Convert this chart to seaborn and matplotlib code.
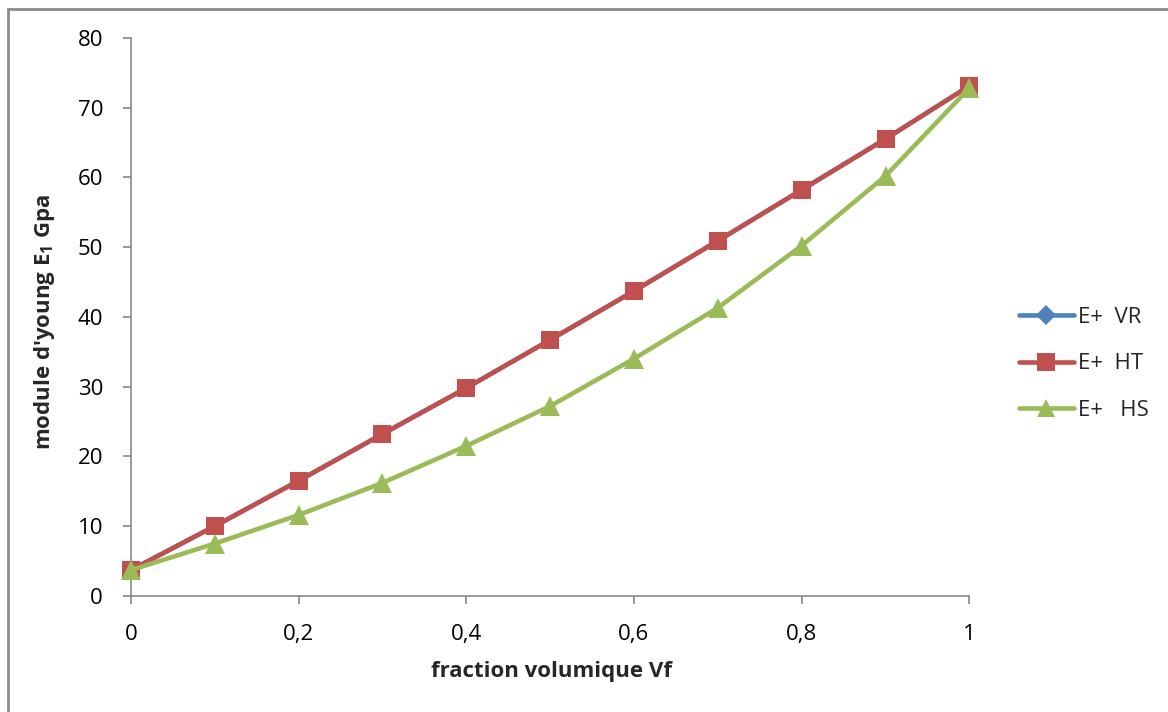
import matplotlib
matplotlib.use("Agg")
import matplotlib.pyplot as plt
import matplotlib.lines as mlines
import seaborn as sns
import pandas as pd

sns.set_theme(style="white")
plt.rcParams["font.family"] = ["Open Sans", "DejaVu Sans"]
plt.rcParams["mathtext.fontset"] = "custom"
plt.rcParams["mathtext.rm"] = "Open Sans:bold"
plt.rcParams["mathtext.it"] = "Open Sans:bold"
plt.rcParams["mathtext.bf"] = "Open Sans:bold"

# Volume fraction of fibres
vf = [0, 0.1, 0.2, 0.3, 0.4, 0.5, 0.6, 0.7, 0.8, 0.9, 1.0]
# Longitudinal Young's modulus (GPa) for each model
e_vr = [3.7, 10.0, 16.5, 23.2, 29.8, 36.7, 43.7, 50.9, 58.2, 65.5, 73.1]
e_ht = [3.7, 10.0, 16.5, 23.2, 29.8, 36.7, 43.7, 50.9, 58.2, 65.5, 73.1]
e_hs = [3.7, 7.5, 11.6, 16.2, 21.5, 27.2, 34.0, 41.3, 50.2, 60.2, 72.8]

series_names = ["E+  VR", "E+  HT", "E+   HS"]
colors = {"E+  VR": "#4F81BD", "E+  HT": "#C0504D", "E+   HS": "#9BBB59"}
markers = {"E+  VR": "D", "E+  HT": "s", "E+   HS": "^"}
sizes = {"E+  VR": 8, "E+  HT": 13, "E+   HS": 14}
legend_sizes = {"E+  VR": 10, "E+  HT": 12.5, "E+   HS": 13}

df = pd.DataFrame({
    "vf": vf * 3,
    "E": e_vr + e_ht + e_hs,
    "serie": [series_names[0]] * len(vf) + [series_names[1]] * len(vf) + [series_names[2]] * len(vf),
})

fig = plt.figure(figsize=(11.68, 7.12), dpi=100)
ax = fig.add_axes([0.112, 0.163, 0.718, 0.784])

for name in series_names:
    sub = df[df["serie"] == name]
    sns.lineplot(data=sub, x="vf", y="E", ax=ax, color=colors[name],
                 linewidth=3.3, marker=markers[name], markersize=sizes[name],
                 markeredgewidth=0, legend=False, zorder=3)

FS = 16
ax.set_xlim(0, 1)
ax.set_ylim(0, 80)
ax.set_xticks([0, 0.2, 0.4, 0.6, 0.8, 1.0])
ax.set_xticklabels(["0", "0,2", "0,4", "0,6", "0,8", "1"])
ax.set_yticks(range(0, 81, 10))
ax.tick_params(axis="both", labelsize=FS, colors="#868686", labelcolor="black",
               direction="out", length=6, width=1.2)
ax.tick_params(axis="x", bottom=True, pad=14)
ax.tick_params(axis="y", left=True, pad=14)
ax.spines["top"].set_visible(False)
ax.spines["right"].set_visible(False)
for s in ["left", "bottom"]:
    ax.spines[s].set_color("#868686")
    ax.spines[s].set_linewidth(1.2)
ax.margins(x=0)
for ln in ax.lines:
    ln.set_clip_on(False)

ax.set_xlabel("fraction volumique Vf", fontsize=FS, fontweight="bold")
ax.set_ylabel("module d'young E$_1$ Gpa", fontsize=FS, fontweight="bold")
ax.xaxis.set_label_coords(0.502, -0.136)
ax.yaxis.set_label_coords(-0.103, 0.49)
ax.xaxis.label.set_va("center")
ax.yaxis.label.set_va("center")

handles = [mlines.Line2D([], [], color=colors[n], marker=markers[n], linewidth=3.3,
                         markersize=legend_sizes[n], markeredgewidth=0) for n in series_names]
fig.legend(handles, series_names, loc="center left", bbox_to_anchor=(0.855, 0.489),
           frameon=False, fontsize=FS, handlelength=2.5, handletextpad=0.15,
           labelspacing=1.15)

# Chart-area border (left and top edges)
fig.add_artist(mlines.Line2D([0.0065, 0.0065], [0, 0.988], transform=fig.transFigure,
                             color="#8c8c8c", linewidth=2))
fig.add_artist(mlines.Line2D([0.0065, 1], [0.988, 0.988], transform=fig.transFigure,
                             color="#8c8c8c", linewidth=2))

fig.savefig("out.png", dpi=100, facecolor="white")
